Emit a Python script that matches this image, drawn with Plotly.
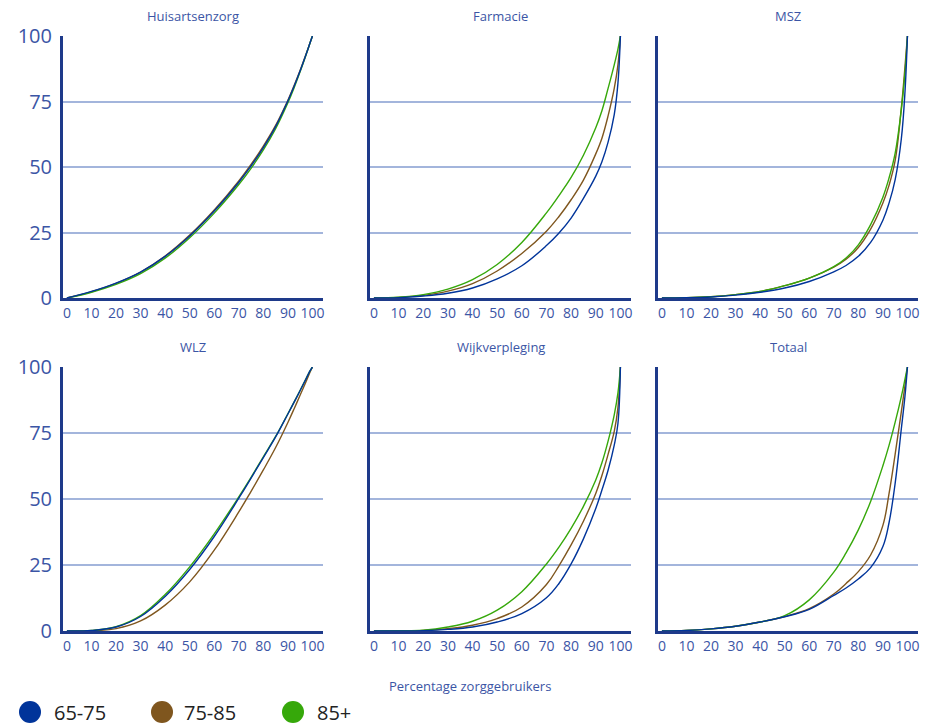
import plotly.graph_objects as go

# ---------------- data ----------------
X = [0, 10, 20, 30, 40, 50, 60, 70, 75, 80, 85, 90, 92.5, 95, 97.5, 99, 100]

PANELS = ["Huisartsenzorg", "Farmacie", "MSZ", "WLZ", "Wijkverpleging", "Totaal"]
GROUPS = ["65-75", "75-85", "85+"]
COLORS = ["#00349A", "#7F561E", "#36A80A"]

huis_6575 = [0, 2.5, 5.7, 9.9, 15.9, 23.7, 33.2, 44.2, 50.4, 57.4, 65.4, 75.2, 80.7, 86.7, 93.2, 97.3, 100]
huis_7585 = [0, 2.4, 5.6, 9.9, 16, 24, 33.6, 44.7, 51, 58, 65.9, 75.5, 81, 86.9, 93.3, 97.3, 100]
huis_85 = [0, 2.2, 5.2, 9.3, 15.2, 23, 32.4, 43.3, 49.5, 56.5, 64.6, 74.5, 80.2, 86.4, 93.1, 97.3, 100]

farm_6575 = [0, 0.15, 0.75, 1.8, 3.8, 7.3, 12.3, 20, 24.7, 30.5, 38, 46.5, 52, 59.5, 70, 82, 100]
farm_7585 = [0, 0.25, 1, 2.6, 5.5, 10.3, 17, 25.5, 31, 37.5, 45, 55, 61, 69.5, 80, 89, 100]
farm_85 = [0, 0.3, 1.3, 3.4, 7, 12.8, 21.2, 32.5, 39, 46, 54.5, 65, 71.5, 80, 89, 95, 100]

msz_6575 = [0, 0.1, 0.4, 1.1, 2.2, 3.8, 6.3, 10, 12.4, 15.9, 21.2, 29.7, 36.2, 45.2, 60.7, 78.7, 100]
msz_7585 = [0, 0.1, 0.5, 1.3, 2.5, 4.7, 7.6, 11.8, 14.8, 19.3, 26.3, 36.3, 43, 52.5, 72.5, 88.3, 100]
msz_85 = [0, 0.1, 0.5, 1.3, 2.5, 4.7, 7.6, 12, 15.3, 20.3, 28, 38.5, 45.8, 55.3, 71.8, 86, 100]

wlz_6575 = [0, 0.2, 1.5, 5.5, 13.1, 23.3, 35.8, 50.3, 57.9, 65.7, 73.5, 82.2, 86.6, 91.1, 95.7, 98.5, 100]
wlz_7585 = [0, 0.1, 0.9, 3.8, 9.8, 18.6, 30.6, 45.1, 52.9, 61, 69.5, 79, 84.1, 89.4, 94.7, 98, 100]
wlz_85 = [0, 0.2, 1.6, 5.8, 13.8, 24.3, 36.8, 50.8, 58.2, 66, 73.7, 82.3, 86.7, 91.2, 95.8, 98.5, 100]

wijk_6575 = [0, 0.05, 0.15, 0.6, 1.5, 3.4, 6.6, 12.6, 17.9, 25.4, 34.9, 46.4, 53.4, 60.9, 70.4, 78.6, 100]
wijk_7585 = [0, 0.05, 0.2, 0.9, 2.2, 4.7, 9.1, 17.6, 24.6, 32.6, 41.6, 52.1, 58.9, 66.9, 75.6, 84.6, 100]
wijk_85 = [0, 0.1, 0.3, 1.5, 3.7, 7.9, 14.9, 25.4, 31.7, 38.9, 47.2, 57.2, 63.7, 71.9, 81.9, 90.2, 100]

tot_6575 = [0, 0.2, 0.8, 1.8, 3.4, 5.4, 8.2, 13.5, 16.3, 19.7, 24, 32, 41, 56, 76.5, 89, 100]
tot_7585 = [0, 0.2, 0.8, 1.8, 3.4, 5.5, 8.5, 14, 18, 22.5, 28.8, 40, 52, 67, 83, 93, 100]
tot_85 = [0, 0.2, 0.8, 1.8, 3.4, 5.8, 11.8, 22.3, 29.6, 38.3, 49.1, 62.6, 70.3, 79.1, 88.8, 95.4, 100]

SERIES = [
    [huis_6575, huis_7585, huis_85],
    [farm_6575, farm_7585, farm_85],
    [msz_6575, msz_7585, msz_85],
    [wlz_6575, wlz_7585, wlz_85],
    [wijk_6575, wijk_7585, wijk_85],
    [tot_6575, tot_7585, tot_85],
]

Y_TICKS = [0, 25, 50, 75, 100]
X_TICKS = [0, 10, 20, 30, 40, 50, 60, 70, 80, 90, 100]
X_TITLE = "Percentage zorggebruikers"

# ---------------- layout geometry ----------------
W, H = 938, 726
OFF = 8  # page body margin offset
COLS_PX = [(63, 323), (370, 631), (658, 918)]
ROWS_PX = [(36, 298), (367, 631)]

AXIS_COL = "#1E3A8A"
GRID_COL = "#A3B5DC"
TEXT_COL = "#3B55A5"
FONT = "Open Sans"


def px(v):
    return (v - OFF) / W


def py(v):
    return 1 - (v - OFF) / H


fig = go.Figure()
annotations = []
for i, name in enumerate(PANELS):
    r, c = divmod(i, 3)
    k = i + 1
    xa = "x" if k == 1 else f"x{k}"
    ya = "y" if k == 1 else f"y{k}"
    for g in [1, 2, 0]:
        fig.add_trace(go.Scatter(
            x=X, y=SERIES[i][g], mode="lines", name=GROUPS[g],
            line=dict(color=COLORS[g], width=1.4, shape="spline", smoothing=1.1),
            xaxis=xa, yaxis=ya, showlegend=False, hoverinfo="skip"))
    x0, x1 = COLS_PX[c]
    y0, y1 = ROWS_PX[r]
    fig.layout[("xaxis" if k == 1 else f"xaxis{k}")] = dict(
        domain=[px(x0), px(x1)], anchor=ya, range=[-1.6, 104.3], automargin=False,
        tickvals=X_TICKS, ticktext=[str(v) for v in X_TICKS],
        tickfont=dict(size=14, color=TEXT_COL, family=FONT),
        showgrid=False, zeroline=False, showline=True,
        linecolor=AXIS_COL, linewidth=3, ticks="", ticklen=0)
    fig.layout[("yaxis" if k == 1 else f"yaxis{k}")] = dict(
        domain=[py(y1), py(y0)], anchor=xa, range=[0, 100], automargin=False,
        tickvals=Y_TICKS, ticktext=[str(v) for v in Y_TICKS],
        showticklabels=(c == 0),
        tickfont=dict(size=20, color=TEXT_COL, family=FONT),
        showgrid=True, gridcolor=GRID_COL, gridwidth=1.5,
        zeroline=False, showline=True, linecolor=AXIS_COL, linewidth=3,
        ticks="", ticklabelstandoff=4)
    annotations.append(dict(
        text=name, x=px((x0 + x1) / 2), y=py(16 if r == 0 else 347),
        xref="paper", yref="paper", showarrow=False, xanchor="center", yanchor="middle",
        font=dict(size=13, color=TEXT_COL, family=FONT)))

annotations.append(dict(
    text=X_TITLE, x=px(470), y=py(686), xref="paper", yref="paper",
    showarrow=False, xanchor="center", yanchor="middle",
    font=dict(size=13, color=TEXT_COL, family=FONT)))

# legend (circle + label)
shapes = []
LEG_CX = [30, 162, 293]
LEG_TX = [52, 182, 315]
LEG_CY = 712
R = 11
for g in range(3):
    cx = LEG_CX[g]
    shapes.append(dict(type="circle", xref="paper", yref="paper",
                       x0=px(cx - R), x1=px(cx + R),
                       y0=py(LEG_CY + R), y1=py(LEG_CY - R),
                       fillcolor=COLORS[g], line=dict(width=0)))
    annotations.append(dict(
        text=GROUPS[g], x=px(LEG_TX[g]), y=py(LEG_CY), xref="paper", yref="paper",
        showarrow=False, xanchor="left", yanchor="middle",
        font=dict(size=20, color="#222222", family=FONT)))

fig.update_layout(
    width=W, height=H, margin=dict(l=0, r=0, t=0, b=0, pad=0, autoexpand=False),
    paper_bgcolor="white", plot_bgcolor="white",
    annotations=annotations, shapes=shapes, showlegend=False)

fig.write_html("out.html")
